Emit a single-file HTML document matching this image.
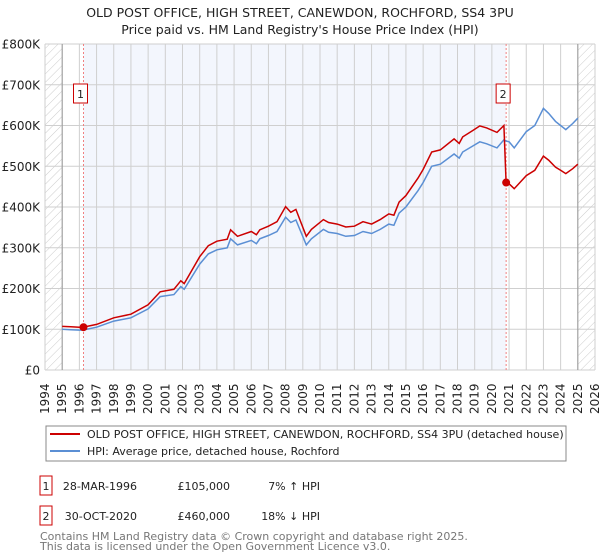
<!DOCTYPE html>
<html><head><meta charset="utf-8"><style>
body{margin:0;background:#fff;font-family:"Liberation Sans","DejaVu Sans",sans-serif;}
#wrap{position:relative;width:600px;height:560px;overflow:hidden;}
svg text{font-family:"DejaVu Sans","Liberation Sans",sans-serif;}
</style></head><body>
<div id="wrap">
<svg id="chart" width="600" height="560"></svg>
</div>
<script>
const years=[1995,1995.5,1996,1996.2,1997,1998,1999,2000,2000.7,2001.5,2001.9,2002.1,2003,2003.5,2004,2004.6,2004.8,2005.2,2006,2006.3,2006.5,2007,2007.5,2008,2008.3,2008.6,2009.2,2009.5,2010.2,2010.5,2011,2011.5,2012,2012.5,2013,2013.5,2014,2014.3,2014.6,2015,2015.7,2016,2016.5,2017,2017.8,2018.1,2018.3,2018.9,2019.3,2019.7,2020.3,2020.7,2020.83,2021,2021.3,2022,2022.5,2023,2023.3,2023.7,2024,2024.3,2024.7,2025];
const hpiValues=[100,99,98,98,105,120,128,150,180,185,205,198,260,285,295,300,322,307,318,310,322,330,340,375,362,368,307,322,345,338,335,328,330,340,335,345,358,355,385,400,440,460,500,505,530,520,535,550,560,555,545,565,562,560,545,585,600,642,630,610,600,590,605,618];
const priceValues=[107,106,105,105,112,128,137,160,192,198,219,212,278,305,316,321,344,328,340,332,344,353,364,401,387,394,328,345,369,362,358,351,353,364,358,369,383,380,412,428,471,492,535,540,567,556,572,588,599,594,583,600,460,457,445,477,490,525,515,498,490,482,494,505];
const sales=[{x:1996.24,v:105,label:'1'},{x:2020.83,v:460,label:'2'}];
const yTicks=[0,100,200,300,400,500,600,700,800];
const yTickLabels=['£0','£100K','£200K','£300K','£400K','£500K','£600K','£700K','£800K'];
const xTicks=[1994,1995,1996,1997,1998,1999,2000,2001,2002,2003,2004,2005,2006,2007,2008,2009,2010,2011,2012,2013,2014,2015,2016,2017,2018,2019,2020,2021,2022,2023,2024,2025,2026];

const NS='http://www.w3.org/2000/svg';
const svg=document.getElementById('chart');
const L=45,R=595,T=44,B=370;
const xs=y=>L+(y-1994)/32*(R-L);
const ys=v=>B-v/800*(B-T);
function el(tag,attrs,parent){const e=document.createElementNS(NS,tag);for(const k in attrs)e.setAttribute(k,attrs[k]);(parent||svg).appendChild(e);return e;}

const defs=el('defs',{});
const pat=el('pattern',{id:'hatch',width:6,height:6,patternUnits:'userSpaceOnUse',patternTransform:'rotate(45)'},defs);
el('line',{x1:0,y1:0,x2:0,y2:6,stroke:'#ccc','stroke-width':1},pat);

let t=el('text',{x:300,y:17,'text-anchor':'middle','font-size':12.5,fill:'#222'});t.textContent='OLD POST OFFICE, HIGH STREET, CANEWDON, ROCHFORD, SS4 3PU';

t=el('text',{x:300,y:34,'text-anchor':'middle','font-size':12.5,fill:'#222'});t.textContent="Price paid vs. HM Land Registry's House Price Index (HPI)";


let r=el('rect',{x:L,y:T,width:xs(1995)-L,height:B-T,fill:'url(#hatch)'});

r=el('rect',{x:xs(2025),y:T,width:R-xs(2025),height:B-T,fill:'url(#hatch)'});

r=el('rect',{x:xs(sales[0].x),y:T,width:xs(sales[1].x)-xs(sales[0].x),height:B-T,fill:'#f3f6fd'});


xTicks.forEach(y=>{const g=el('line',{x1:xs(y),x2:xs(y),y1:T,y2:B,stroke:'#cfcfcf','stroke-width':1});

const lx=el('text',{transform:`translate(${xs(y)+4},414) rotate(-90)`,'font-size':12,fill:'#222'});lx.textContent=y;
});
yTicks.forEach((v,i)=>{const g=el('line',{x1:L,x2:R,y1:ys(v),y2:ys(v),stroke:'#cfcfcf','stroke-width':1});

const ly=el('text',{x:40,y:ys(v)+4.5,'text-anchor':'end','font-size':12,fill:'#222'});ly.textContent=yTickLabels[i];
});
let a=el('line',{x1:xs(1995),x2:xs(1995),y1:T,y2:B,stroke:'#999','stroke-width':1});

a=el('line',{x1:xs(2025),x2:xs(2025),y1:T,y2:B,stroke:'#999','stroke-width':1});


sales.forEach(s=>{const d=el('line',{x1:xs(s.x),x2:xs(s.x),y1:T,y2:B,stroke:'#f08080','stroke-width':1,'stroke-dasharray':'2,2'});

const bx=el('rect',{x:xs(s.x)-10,y:84,width:14,height:19,fill:'#fff',stroke:'#c00','stroke-width':1});

const bt=el('text',{x:xs(s.x)-3,y:98,'text-anchor':'middle','font-size':11,fill:'#222'});bt.textContent=s.label;
});

const pts=arr=>years.map((y,i)=>xs(y).toFixed(1)+','+ys(arr[i]).toFixed(1)).join(' ');
let p=el('polyline',{points:pts(hpiValues),fill:'none',stroke:'#5b8fd4','stroke-width':1.5});

p=el('polyline',{points:pts(priceValues),fill:'none',stroke:'#cc0000','stroke-width':1.5});

sales.forEach(s=>{const c=el('circle',{cx:xs(s.x),cy:ys(s.v),r:4,fill:'#cc0000'});
});

const lg=el('g',{});
el('rect',{x:46,y:426,width:520,height:35,fill:'#fff',stroke:'#888','stroke-width':1},lg);
el('line',{x1:50,x2:80,y1:434,y2:434,stroke:'#cc0000','stroke-width':2},lg);
el('line',{x1:50,x2:80,y1:451,y2:451,stroke:'#5b8fd4','stroke-width':2},lg);
let le=el('text',{x:87,y:438,'font-size':11,fill:'#222'},lg);le.textContent='OLD POST OFFICE, HIGH STREET, CANEWDON, ROCHFORD, SS4 3PU (detached house)';

le=el('text',{x:87,y:455,'font-size':11,fill:'#222'},lg);le.textContent='HPI: Average price, detached house, Rochford';


const rows=[['1','28-MAR-1996','£105,000','7% ↑ HPI',476],['2','30-OCT-2020','£460,000','18% ↓ HPI',506]];
rows.forEach(rw=>{const y0=rw[4];
const b=el('rect',{x:40,y:y0,width:12,height:19,fill:'none',stroke:'#c00','stroke-width':1});

const vals=[[rw[0],46,'middle'],[rw[1],137,'end'],[rw[2],230,'end'],[rw[3],320,'end']];
vals.forEach((v,i)=>{const tx=el('text',{x:v[1],y:y0+14,'text-anchor':v[2],'font-size':11,fill:'#222'});tx.textContent=v[0];
});});
let f=el('text',{x:40,y:540,'font-size':11,fill:'#777'});f.textContent='Contains HM Land Registry data © Crown copyright and database right 2025.';

f=el('text',{x:40,y:550,'font-size':11,fill:'#777'});f.textContent='This data is licensed under the Open Government Licence v3.0.';

</script>
</body></html>
